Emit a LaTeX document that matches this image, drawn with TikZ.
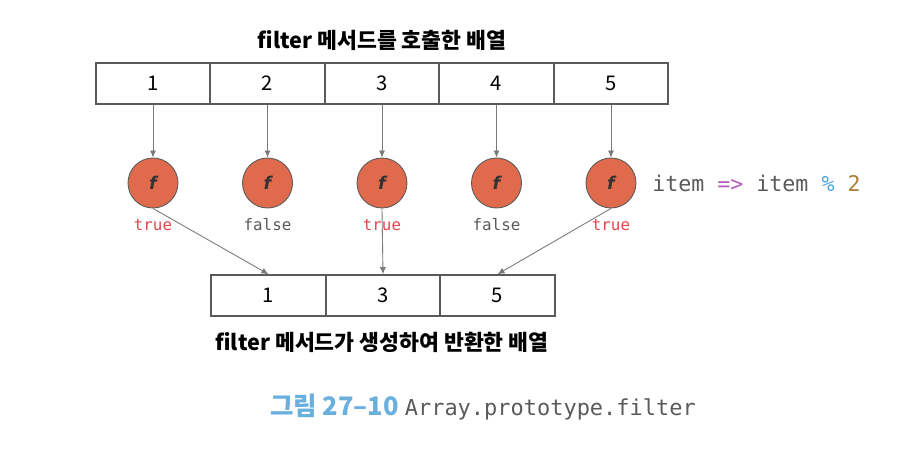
\documentclass[tikz,border=0pt]{standalone}
\usepackage{fontspec}
\usepackage{xcolor}
\usepackage{tikz}
\usetikzlibrary{arrows.meta}

\newfontfamily\kr{Noto Sans CJK KR}
\newfontfamily\code{DejaVu Sans Mono}
\newfontfamily\fsym{DejaVu Sans}

\definecolor{fcirc}{HTML}{DF6A4C}
\definecolor{truered}{HTML}{E0474C}
\definecolor{linegray}{HTML}{5A5A5A}
\definecolor{arrgray}{HTML}{7A7A7A}
\definecolor{capblue}{HTML}{6AB0DE}
\definecolor{oppurple}{HTML}{B65CC0}
\definecolor{opblue}{HTML}{4AA3D8}
\definecolor{numbrown}{HTML}{A97E3A}

\tikzset{
  cell/.style={draw=linegray, line width=0.9pt, minimum width=2.29cm, minimum height=0.82cm,
    inner sep=0pt, font=\kr\fontsize{11.5}{11.5}\selectfont},
  fn/.style={circle, draw=linegray, line width=0.5pt, fill=fcirc, minimum size=1cm, inner sep=0pt,
    text=black!80, font=\fsym\bfseries\itshape\fontsize{10}{10}\selectfont},
  res/.style={font=\code\fontsize{9}{9}\selectfont},
  link/.style={draw=arrgray, line width=0.5pt, -{Latex[length=4pt,width=3.5pt]}},
  title/.style={font=\kr\bfseries\fontsize{12.3}{12.3}\selectfont}
}

\begin{document}
\begin{tikzpicture}
			\def \width {18.2};
			\def \height {9.08};
			\useasboundingbox (0,0) rectangle (\width,\height);

			%호출한 배열
			\node[title] (topTitle) at (7.64,8.28) {filter 메서드를 호출한 배열};
			\node[cell] (a1) at (3.06,7.41) {1};
			\node[cell] (a2) at (5.35,7.41) {2};
			\node[cell] (a3) at (7.64,7.41) {3};
			\node[cell] (a4) at (9.93,7.41) {4};
			\node[cell] (a5) at (12.22,7.41) {5};

			%콜백 함수
			\node[fn] (f1) at (3.06,5.42) {f};
			\node[fn] (f2) at (5.35,5.42) {f};
			\node[fn] (f3) at (7.64,5.42) {f};
			\node[fn] (f4) at (9.93,5.42) {f};
			\node[fn] (f5) at (12.22,5.42) {f};
			\node[font=\code\fontsize{12.3}{12.3}\selectfont, anchor=west, inner sep=0pt] (lambda) at (13.04,5.42)
				{\textcolor{linegray}{item} \textcolor{oppurple}{=>} \textcolor{linegray}{item} \textcolor{opblue}{\%} \textcolor{numbrown}{2}};

			\node[res, truered] (r1) at (3.06,4.58) {true};
			\node[res, linegray] (r2) at (5.35,4.58) {false};
			\node[res, truered] (r3) at (7.64,4.58) {true};
			\node[res, linegray] (r4) at (9.93,4.58) {false};
			\node[res, truered] (r5) at (12.22,4.58) {true};

			\draw[link] (a1) -- (f1);
			\draw[link] (a2) -- (f2);
			\draw[link] (a3) -- (f3);
			\draw[link] (a4) -- (f4);
			\draw[link] (a5) -- (f5);

			%반환한 배열
			\node[cell] (b1) at (5.37,3.17) {1};
			\node[cell] (b3) at (7.66,3.17) {3};
			\node[cell] (b5) at (9.95,3.17) {5};
			\node[title] (bottomTitle) at (7.64,2.24) {filter 메서드가 생성하여 반환한 배열};

			\draw[link] (f1.south) -- (b1.north);
			\draw[link] (f3.south) -- (b3.north);
			\draw[link] (f5.south) -- (b5.north);

			%그림 설명
			\node[inner sep=0pt] (caption) at (9.66,0.94)
				{{\kr\bfseries\fontsize{14.5}{14.5}\selectfont\textcolor{capblue}{그림 27–10}} {\code\fontsize{12.5}{12.5}\selectfont\textcolor{linegray}{Array.prototype.filter}}};
		\end{tikzpicture}
\end{document}
